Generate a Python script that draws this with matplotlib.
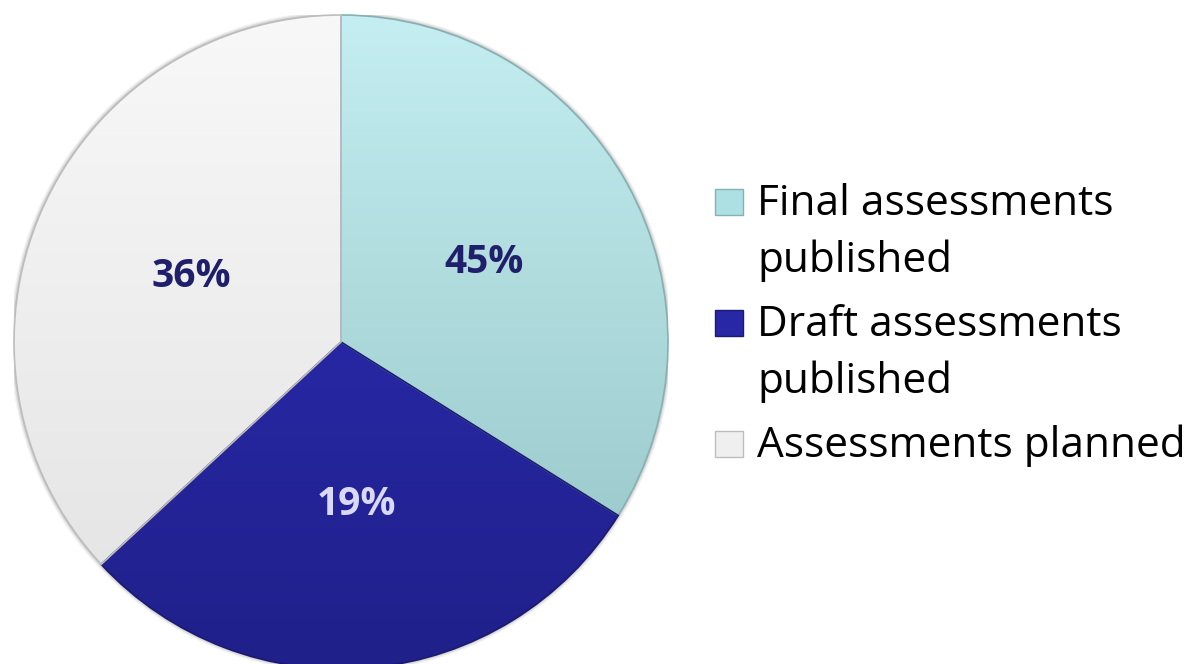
import numpy as np
import matplotlib.pyplot as plt
from matplotlib.patches import Rectangle, Circle
from matplotlib.colors import LinearSegmentedColormap

# wedge shares as drawn in the picture, and the label texts shown on them
shares = [33.9, 29.2, 36.9]
pct_labels = ['45%', '19%', '36%']
legend_labels = ['Final assessments\npublished', 'Draft assessments\npublished', 'Assessments planned']
colors = ['#ade0e3', '#2828a6', '#efefef']
edge_colors = ['#86b0b2', '#1a1a70', '#bdbdbd']
text_colors = ['#1f1f6b', '#d9d9f5', '#1f1f6b']

W, H = 1196, 664
fig = plt.figure(figsize=(W / 100, H / 100), dpi=100)
fig.patch.set_facecolor('white')

# pie axes: centre (341, 342) px, radius 327 px
cx, cy, r = 341, 342, 327
ax = fig.add_axes([(cx - r) / W, (H - cy - r) / H, 2 * r / W, 2 * r / H])
ax.axis('off')

# soft shadow ring
for k, a in zip([1.012, 1.008, 1.004], [0.05, 0.07, 0.10]):
    ax.add_patch(Circle((0, 0), k, color='black', alpha=a, lw=0, zorder=0))

wedges, _ = ax.pie(shares, colors=colors, startangle=90, counterclock=False,
                   radius=1, wedgeprops=dict(linewidth=1.2))
ax.set_xlim(-1, 1)
ax.set_ylim(-1, 1)
ax.set_aspect('auto')

# vertical gradient shading clipped to each wedge (light at top)
yy = np.linspace(-1, 1, 300).reshape(-1, 1)
grads = [('#c4eef1', '#93c2c3'), ('#2e2ebd', '#20208a'), ('#f8f8f8', '#e2e2e2')]
for w, (c1, c2), ec in zip(wedges, grads, edge_colors):
    cmap = LinearSegmentedColormap.from_list('g', [c1, c2])
    im = ax.imshow(np.tile(yy, (1, 2)), cmap=cmap, extent=(-1, 1, -1, 1),
                   aspect='auto', vmin=-1, vmax=1, zorder=1.5)
    im.set_clip_path(w)
    w.set_facecolor('none')
    w.set_edgecolor(ec)
    w.set_zorder(2)

for w, lab, tc in zip(wedges, pct_labels, text_colors):
    ang = np.deg2rad((w.theta1 + w.theta2) / 2)
    ax.text(0.5 * np.cos(ang), 0.5 * np.sin(ang), lab, color=tc,
            fontsize=28, fontweight='bold', family='Open Sans',
            ha='center', va='center', zorder=3)

# legend drawn by hand so the swatch lines up with the first text line
first_base = 215
item_step = 121
line_step = 57
for i, (lab, c) in enumerate(zip(legend_labels, colors)):
    base = first_base + i * item_step
    fig.patches.append(Rectangle((715 / W, (H - base) / H), 28 / W, 26 / H,
                                 transform=fig.transFigure, facecolor=c,
                                 edgecolor=edge_colors[i], lw=1))
    for j, line in enumerate(lab.split('\n')):
        fig.text(757 / W, (H - base - j * line_step) / H, line,
                 fontsize=30.5, family='Open Sans', color='black',
                 ha='left', va='baseline')

fig.savefig('out.png', dpi=100)
